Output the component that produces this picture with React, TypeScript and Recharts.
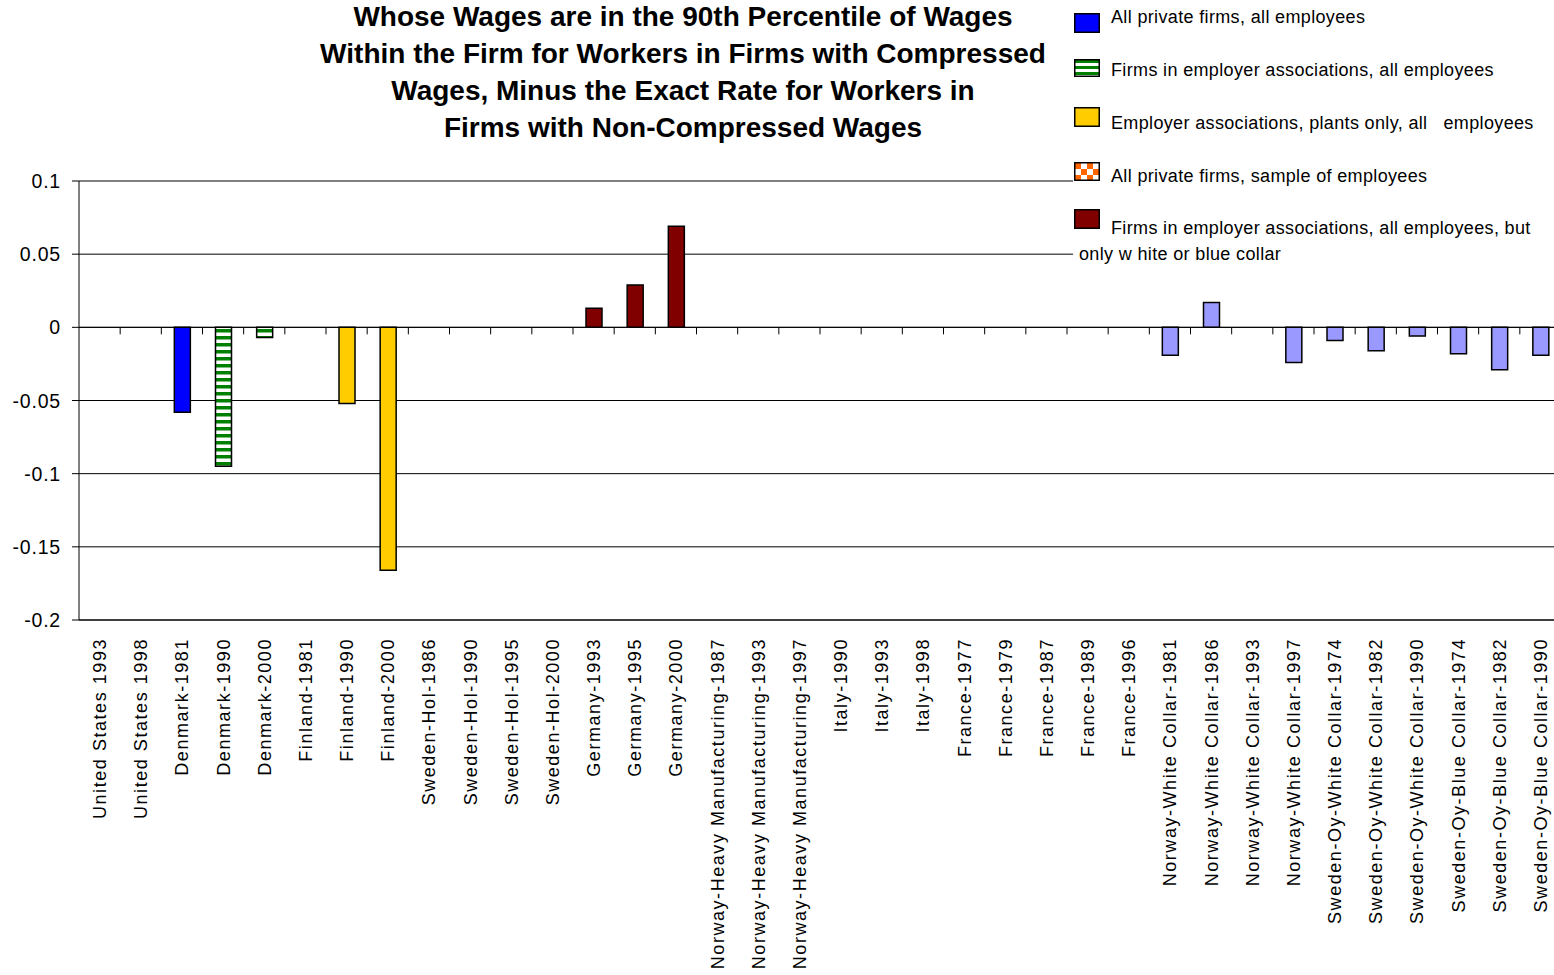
import React from 'react';
import { BarChart, Bar, XAxis, YAxis, CartesianGrid, ReferenceLine, Legend } from 'recharts';

const FONT = '"Liberation Sans", Arial, Helvetica, sans-serif';

const categories = [
  'United States 1993', 'United States 1998', 'Denmark-1981', 'Denmark-1990', 'Denmark-2000',
  'Finland-1981', 'Finland-1990', 'Finland-2000', 'Sweden-Hol-1986', 'Sweden-Hol-1990',
  'Sweden-Hol-1995', 'Sweden-Hol-2000', 'Germany-1993', 'Germany-1995', 'Germany-2000',
  'Norway-Heavy Manufacturing-1987', 'Norway-Heavy Manufacturing-1993', 'Norway-Heavy Manufacturing-1997',
  'Italy-1990', 'Italy-1993', 'Italy-1998', 'France-1977', 'France-1979', 'France-1987',
  'France-1989', 'France-1996', 'Norway-White Collar-1981', 'Norway-White Collar-1986',
  'Norway-White Collar-1993', 'Norway-White Collar-1997', 'Sweden-Oy-White Collar-1974',
  'Sweden-Oy-White Collar-1982', 'Sweden-Oy-White Collar-1990', 'Sweden-Oy-Blue Collar-1974',
  'Sweden-Oy-Blue Collar-1982', 'Sweden-Oy-Blue Collar-1990',
];

const titleLines = [
  'Whose Wages are in the 90th Percentile of Wages',
  'Within the Firm for Workers in Firms with Compressed',
  'Wages, Minus the Exact Rate for Workers in',
  'Firms with Non-Compressed Wages',
];

const yTicks = [-0.2, -0.15, -0.1, -0.05, 0, 0.05, 0.1];

// Series values (by category)
const allPrivateAll: Record<string, number> = { 'Denmark-1981': -0.058 };
const employerAssocAll: Record<string, number> = { 'Denmark-1990': -0.095, 'Denmark-2000': -0.007 };
const employerAssocPlants: Record<string, number> = { 'Finland-1990': -0.052, 'Finland-2000': -0.166 };
const allPrivateSample: Record<string, number> = {};
const employerAssocCollar: Record<string, number> = {
  'Germany-1993': 0.013, 'Germany-1995': 0.029, 'Germany-2000': 0.069,
};
const collarOnly: Record<string, number> = {
  'Norway-White Collar-1981': -0.019,
  'Norway-White Collar-1986': 0.017,
  'Norway-White Collar-1997': -0.024,
  'Sweden-Oy-White Collar-1974': -0.009,
  'Sweden-Oy-White Collar-1982': -0.016,
  'Sweden-Oy-White Collar-1990': -0.006,
  'Sweden-Oy-Blue Collar-1974': -0.018,
  'Sweden-Oy-Blue Collar-1982': -0.029,
  'Sweden-Oy-Blue Collar-1990': -0.019,
};

const seriesKeys = ['s1', 's2', 's3', 's4', 's5', 's6'];
const seriesNames = [
  'All private firms, all employees',
  'Firms in employer associations, all employees',
  'Employer associations, plants only, all   employees',
  'All private firms, sample of employees',
  'Firms in employer associations, all employees, but',
  'Series 6',
];
const nameContinuation = 'only w hite or blue collar';

const data = categories.map((c) => ({
  name: c,
  s1: allPrivateAll[c] ?? null,
  s2: employerAssocAll[c] ?? null,
  s3: employerAssocPlants[c] ?? null,
  s4: allPrivateSample[c] ?? null,
  s5: employerAssocCollar[c] ?? null,
  s6: collarOnly[c] ?? null,
}));

// legend layout (style only)
const legendTextCenters = [17, 70, 122.5, 175.5, 227.5];
const legendIconTops = [13, 59, 107, 162, 209];
const legendIconHeights = [20, 18, 20, 19, 20];

const LegendIcon = ({ k, h }: { k: string; h: number }) => {
  const w = 26;
  return (
    <svg width={w} height={h} style={{ display: 'block' }}>
      <defs>
        <pattern id={`lg-stripe`} width="8" height="6" patternUnits="userSpaceOnUse" y="1">
          <rect width="8" height="6" fill="#fff" />
          <rect width="8" height="3" fill="#008000" />
        </pattern>
        <pattern id={`lg-check`} width="12" height="12" patternUnits="userSpaceOnUse" x="1" y="1">
          <rect width="12" height="12" fill="#FF6600" />
          <rect x="6" y="0" width="6" height="6" fill="#fff" />
          <rect x="0" y="6" width="6" height="6" fill="#fff" />
        </pattern>
      </defs>
      <rect
        x={0.75}
        y={0.75}
        width={w - 1.5}
        height={h - 1.5}
        fill={
          k === 's1' ? '#0000FF' : k === 's2' ? 'url(#lg-stripe)' : k === 's3' ? '#FFCC00' : k === 's4' ? 'url(#lg-check)' : '#800000'
        }
        stroke="#000"
        strokeWidth={1.5}
      />
    </svg>
  );
};

const LegendContent = (props: any) => {
  const payload = (props.payload || [])
    .filter((p: any) => p.type !== 'none')
    .slice()
    .sort((a: any, b: any) => seriesKeys.indexOf(a.dataKey) - seriesKeys.indexOf(b.dataKey));
  const textStyle: React.CSSProperties = {
    position: 'absolute',
    fontSize: 18,
    lineHeight: '20px',
    letterSpacing: 0.35,
    fontFamily: FONT,
    color: '#000',
    whiteSpace: 'pre',
  };
  return (
    <div style={{ position: 'relative', width: '100%', height: '100%' }}>
      {payload.map((p: any, i: number) => (
        <React.Fragment key={p.dataKey}>
          <div style={{ position: 'absolute', left: 1, top: legendIconTops[i] }}>
            <LegendIcon k={p.dataKey} h={legendIconHeights[i]} />
          </div>
          <div style={{ ...textStyle, left: 38, top: legendTextCenters[i] - 9.8 }}>{p.value}</div>
        </React.Fragment>
      ))}
      <div style={{ ...textStyle, left: 6, top: 254 - 9.8 }}>{nameContinuation}</div>
    </div>
  );
};

const XTick = (props: any) => {
  const { x, y, payload } = props;
  return (
    <text
      x={x}
      y={y}
      dy={6.5}
      transform={`rotate(-90, ${x}, ${y})`}
      textAnchor="end"
      fontSize={18}
      letterSpacing={1.55}
      fontFamily={FONT}
      fill="#000"
    >
      {payload.value}
    </text>
  );
};

const YTick = (props: any) => {
  const { x, y, payload } = props;
  return (
    <text x={x} y={y} dy={7} textAnchor="end" fontSize={19.5} letterSpacing={0.8} fontFamily={FONT} fill="#000">
      {String(payload.value)}
    </text>
  );
};

const ZeroLine = (props: any) => {
  const { x1, x2, y1 } = props;
  const n = categories.length;
  const step = (x2 - x1) / n;
  const ticks = [];
  for (let k = 1; k < n; k++) {
    const tx = x1 + k * step;
    ticks.push(<line key={k} x1={tx} x2={tx} y1={y1} y2={y1 + 7} stroke="#000" strokeWidth={1} />);
  }
  return (
    <g>
      <line x1={x1} x2={x2} y1={y1} y2={y1} stroke="#000" strokeWidth={1} />
      {ticks}
    </g>
  );
};

export default function App() {
  return (
    <div
      style={{
        position: 'absolute',
        left: 0,
        top: 0,
        width: 1554,
        height: 975,
        overflow: 'hidden',
        background: '#fff',
        fontFamily: FONT,
      }}
    >
      <BarChart
        width={1562}
        height={975}
        data={data}
        margin={{ top: 181, right: 1, bottom: 5, left: 9 }}
        stackOffset="sign"
        barSize={16}
      >
        <defs>
          <pattern id="stripesGreen" width="8" height="7" patternUnits="userSpaceOnUse">
            <rect width="8" height="7" fill="#fff" />
            <rect width="8" height="3.5" fill="#008000" />
          </pattern>
          <pattern id="checkOrange" width="12" height="12" patternUnits="userSpaceOnUse">
            <rect width="12" height="12" fill="#FF6600" />
            <rect x="6" y="0" width="6" height="6" fill="#fff" />
            <rect x="0" y="6" width="6" height="6" fill="#fff" />
          </pattern>
        </defs>
        <CartesianGrid vertical={false} stroke="#000" strokeWidth={1} />
        <XAxis
          dataKey="name"
          type="category"
          interval={0}
          height={350}
          axisLine={{ stroke: '#000', strokeWidth: 1 }}
          tickLine={false}
          tickSize={0}
          tickMargin={18}
          tick={<XTick />}
        />
        <YAxis
          type="number"
          domain={[-0.2, 0.1]}
          ticks={yTicks}
          width={70}
          axisLine={{ stroke: '#000', strokeWidth: 1 }}
          tickLine={{ stroke: '#000', strokeWidth: 1 }}
          tickSize={7}
          tickMargin={11}
          tick={<YTick />}
          allowDataOverflow
        />
        <ReferenceLine y={0} shape={(p: any) => <ZeroLine {...p} />} />
        <Legend
          layout="vertical"
          align="center"
          verticalAlign="middle"
          itemSorter={null as any}
          content={<LegendContent />}
          wrapperStyle={{ left: 1073, top: 0, width: 481, height: 268, background: '#fff' }}
        />
        <Bar dataKey="s1" name={seriesNames[0]} stackId="a" fill="#0000FF" stroke="#000" strokeWidth={1.5} isAnimationActive={false} />
        <Bar dataKey="s2" name={seriesNames[1]} stackId="a" fill="url(#stripesGreen)" stroke="#000" strokeWidth={1.5} isAnimationActive={false} />
        <Bar dataKey="s3" name={seriesNames[2]} stackId="a" fill="#FFCC00" stroke="#000" strokeWidth={1.5} isAnimationActive={false} />
        <Bar dataKey="s4" name={seriesNames[3]} stackId="a" fill="url(#checkOrange)" stroke="#000" strokeWidth={1.5} isAnimationActive={false} />
        <Bar dataKey="s5" name={seriesNames[4]} stackId="a" fill="#800000" stroke="#000" strokeWidth={1.5} isAnimationActive={false} />
        <Bar dataKey="s6" name={seriesNames[5]} stackId="a" fill="#9999FF" stroke="#000" strokeWidth={1.5} legendType="none" isAnimationActive={false} />
      </BarChart>
      <div
        style={{
          position: 'absolute',
          left: 283,
          top: -2,
          width: 800,
          textAlign: 'center',
          fontWeight: 'bold',
          fontSize: 28,
          lineHeight: '37px',
          fontFamily: FONT,
          color: '#000',
        }}
      >
        {titleLines.map((t) => (
          <div key={t}>{t}</div>
        ))}
      </div>
    </div>
  );
}
